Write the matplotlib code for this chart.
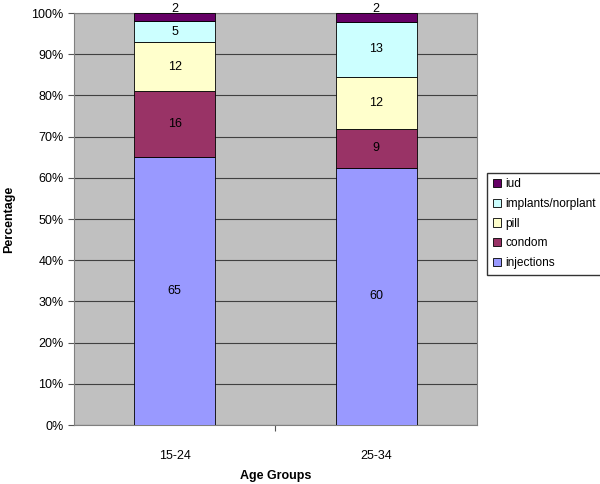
import numpy as np
import matplotlib
matplotlib.use("Agg")
from matplotlib import pyplot as plt
from matplotlib.ticker import PercentFormatter

plt.rcParams['font.family'] = ['Liberation Sans', 'DejaVu Sans']

groups = ["15-24", "25-34"]
methods = ["injections", "condom", "pill", "implants/norplant", "iud"]
injections = [65, 60]
condom = [16, 9]
pill = [12, 12]
implants = [5, 13]
iud = [2, 2]
colors = ["#9999FF", "#993366", "#FFFFCC", "#CCFFFF", "#660066"]

series = np.array([injections, condom, pill, implants, iud], dtype=float)
totals = series.sum(axis=0)
shares = series / totals * 100

fig = plt.figure(figsize=(6, 4.84), dpi=100)
ax = fig.add_axes([0.1233, 0.1219, 0.6717, 0.8512])
ax.set_facecolor("#C0C0C0")

x = np.arange(len(groups))
bottom = np.zeros(len(groups))
for i, name in enumerate(methods):
    ax.bar(x, shares[i], 0.4, bottom=bottom, color=colors[i],
           edgecolor="black", linewidth=0.6, label=name, zorder=3)
    for j in range(len(groups)):
        yc = bottom[j] + shares[i][j] / 2
        if shares[i][j] < 4:
            # small top segment: label sits on the top edge
            yc = bottom[j] + shares[i][j] + 0.9
        ax.text(x[j], yc, "%d" % series[i][j], ha="center", va="center",
                fontsize=9, zorder=4)
    bottom += shares[i]

ax.set_xlim(-0.5, 1.5)
ax.set_ylim(0, 100)
ax.set_yticks(np.arange(0, 101, 10))
ax.yaxis.set_major_formatter(PercentFormatter(decimals=0))
ax.set_xticks([0.5], minor=False)
ax.set_xticks(x, minor=True)
ax.set_xticklabels([""])
ax.set_xticklabels(groups, minor=True)
ax.tick_params(axis="x", which="minor", length=0, labelsize=9, pad=18)
ax.tick_params(axis="x", which="major", length=4, color="#555555")
ax.tick_params(axis="y", labelsize=9, length=4, color="#555555")
ax.grid(axis="y", color="#404040", linewidth=0.8, zorder=1)
for s in ax.spines.values():
    s.set_color("#808080")

ax.set_ylabel("Percentage", fontsize=9, fontweight="bold")
ax.yaxis.set_label_coords(-0.147, 0.5)
ax.set_xlabel("Age Groups", fontsize=9, fontweight="bold")
ax.xaxis.set_label_coords(0.5, -0.11)

h, l = ax.get_legend_handles_labels()
fig.legend(h[::-1], l[::-1], loc="upper left", bbox_to_anchor=(0.812, 0.643),
           fontsize=8.6, frameon=True, fancybox=False, edgecolor="black",
           handlelength=0.7, handleheight=0.7, handletextpad=0.4,
           labelspacing=0.65, borderpad=0.45, borderaxespad=0)

fig.savefig("out.png", dpi=100)
